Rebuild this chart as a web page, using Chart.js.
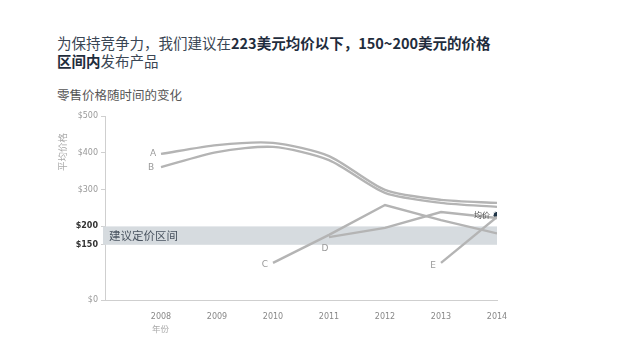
<!DOCTYPE html>
<html><head><meta charset="utf-8">
<script src="https://cdn.jsdelivr.net/npm/chart.js@4"></script>
<style>
html,body{margin:0;padding:0;background:#fff;width:641px;height:341px;overflow:hidden;font-family:"Noto Sans CJK SC","Noto Sans",sans-serif;}
#title{position:absolute;left:57px;top:34px;font-size:14.5px;line-height:18px;color:#3a4654;white-space:nowrap;}
#title b{color:#1f2d3d;font-weight:700;}
#sub{position:absolute;left:57px;top:85px;font-size:12.5px;color:#555;}
#wrap{position:absolute;left:0;top:0;width:641px;height:341px;}
</style></head><body>
<div id="title">为保持竞争力，我们建议在<b>223美元均价以下，150~200美元的价格<br>区间内</b>发布产品</div>
<div id="sub">零售价格随时间的变化</div>
<div id="wrap"><canvas id="c" width="641" height="341"></canvas></div>
<script>
const years = [2008, 2009, 2010, 2011, 2012, 2013, 2014];
const seriesA = [397, 421, 427, 391, 299, 272, 264];
const seriesB = [361, 402, 416, 380, 291, 264, 253];
const yearsC = [2010, 2011, 2012, 2013, 2014];
const seriesC = [101, 177, 258, 217, 181];
const yearsD = [2011, 2012, 2013, 2014];
const seriesD = [171, 196, 239, 223];
const yearsE = [2013, 2014];
const seriesE = [101, 226];
const avgYear = [2014];
const avgPrice = [230];
const yTicks = [0, 150, 200, 300, 400, 500];
const bandRange = [150, 200];
const seriesNames = ['A', 'B', 'C', 'D', 'E'];

const pts = (xs, ys) => xs.map((x, i) => ({x: x, y: ys[i]}));
const lineColor = '#b4b4b4';
const mk = (name, data, tension) => ({label: name, data: data, borderColor: lineColor, borderWidth: 2.4,
  pointRadius: 0, tension: tension, fill: false});

const labelOffsets = {A: [-8, 0], B: [-10, 1], C: [-8, 2], D: [-4, 12], E: [-8, 3]};

const bandPlugin = {
  id: 'band',
  beforeDatasetsDraw(chart) {
    const {ctx, chartArea, scales} = chart;
    const y1 = scales.y.getPixelForValue(bandRange[1]);
    const y0 = scales.y.getPixelForValue(bandRange[0]);
    ctx.save();
    ctx.fillStyle = '#d6dbdf';
    ctx.fillRect(chartArea.left - 2, y1, chartArea.right - chartArea.left + 2, y0 - y1);
    ctx.fillStyle = '#4a5460';
    ctx.font = '11.5px "Noto Sans CJK SC"';
    ctx.textBaseline = 'middle';
    ctx.fillText('建议定价区间', chartArea.left + 4, (y0 + y1) / 2);
    ctx.restore();
  },
  afterDatasetsDraw(chart) {
    const {ctx, scales, chartArea} = chart;
    ctx.save();
    ctx.fillStyle = '#9a9a9a';
    ctx.font = '9px "DejaVu Sans"';
    ctx.textAlign = 'center';
    ctx.textBaseline = 'middle';
    chart.data.datasets.forEach((ds, i) => {
      if (!seriesNames.includes(ds.label)) return;
      const p = ds.data[0];
      const off = labelOffsets[ds.label];
      ctx.fillText(ds.label, scales.x.getPixelForValue(p.x) + off[0], scales.y.getPixelForValue(p.y) + off[1]);
    });
    ctx.fillStyle = '#555';
    ctx.font = '8px "Noto Sans CJK SC"';
    ctx.textAlign = 'right';
    ctx.fillText('均价', scales.x.getPixelForValue(avgYear[0]) - 7, scales.y.getPixelForValue(avgPrice[0]));
    ctx.fillStyle = '#aaa';
    ctx.textAlign = 'left';
    ctx.font = '8.5px "Noto Sans CJK SC"';
    ctx.fillText('年份', 152, 329);
    ctx.translate(62, 152);
    ctx.rotate(-Math.PI / 2);
    ctx.textAlign = 'center';
    ctx.font = '9.5px "Noto Sans CJK SC"';
    ctx.fillText('平均价格', 0, 0);
    ctx.restore();
  }
};

new Chart(document.getElementById('c'), {
  type: 'line',
  data: {
    datasets: [
      mk('A', pts(years, seriesA), 0.25),
      mk('B', pts(years, seriesB), 0.25),
      mk('C', pts(yearsC, seriesC), 0),
      mk('D', pts(yearsD, seriesD), 0),
      mk('E', pts(yearsE, seriesE), 0),
      {label: '均价', data: pts(avgYear, avgPrice), showLine: false, pointRadius: 4,
       pointBackgroundColor: '#1e3346', pointBorderColor: '#ffffff', pointBorderWidth: 1}
    ]
  },
  options: {
    responsive: false,
    animation: false,
    layout: {padding: {left: 0, right: 144, top: 116, bottom: 0}},
    plugins: {legend: {display: false}, tooltip: {enabled: false}},
    scales: {
      x: {
        type: 'linear', min: 2007, max: 2014,
        afterBuildTicks: s => { s.ticks = years.map(v => ({value: v})); },
        afterFit: s => { s.height = 41; },
        grid: {display: false},
        border: {display: true, color: '#cfcfcf', width: 1},
        ticks: {padding: 4, color: '#888', font: {size: 8, family: 'DejaVu Sans'},
          maxRotation: 0, callback: v => String(v)}
      },
      y: {
        type: 'linear', min: 0, max: 500,
        afterBuildTicks: s => { s.ticks = yTicks.map(v => ({value: v})); },
        afterFit: s => { s.width = 105; },
        grid: {drawOnChartArea: false, drawTicks: true, tickLength: 4, color: '#cfcfcf'},
        border: {display: true, color: '#cfcfcf', width: 1},
        ticks: {padding: 3, callback: v => '$' + v,
          color: c => (c.tick && (c.tick.value === 150 || c.tick.value === 200)) ? '#333' : '#999',
          font: c => ({size: 8, family: 'DejaVu Sans',
            weight: (c.tick && (c.tick.value === 150 || c.tick.value === 200)) ? 'bold' : 'normal'})}
      }
    }
  },
  plugins: [bandPlugin]
});
</script>
</body></html>
